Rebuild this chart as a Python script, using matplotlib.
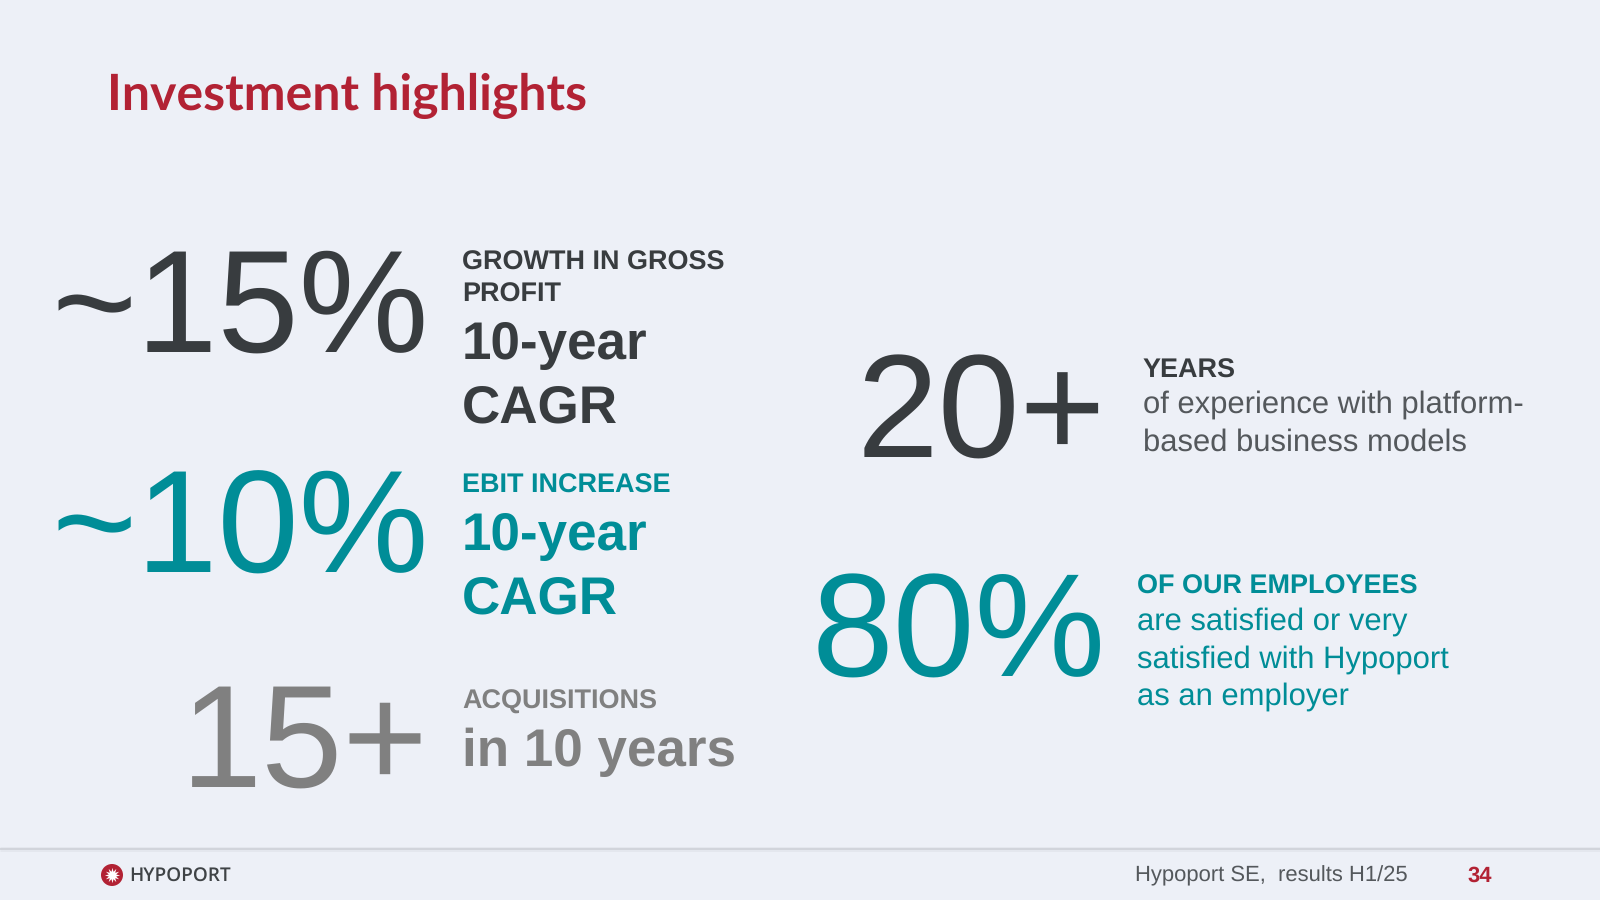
import matplotlib
matplotlib.use("Agg")
import matplotlib.pyplot as plt
from matplotlib.patches import Circle

plt.rcParams["text.hinting"] = "no_hinting"
plt.rcParams["text.hinting_factor"] = 1

# === Slide content ===
title = "Investment highlights"
left_numbers = ["~15%", "~10%", "15+"]
left_heads = ["GROWTH IN GROSS\nPROFIT", "EBIT INCREASE", "ACQUISITIONS"]
left_subs = ["10-year\nCAGR", "10-year\nCAGR", "in 10 years"]
right_numbers = ["20+", "80%"]
right_heads = ["YEARS", "OF OUR EMPLOYEES"]
right_subs = [
    "of experience with platform-\nbased business models",
    "are satisfied or very\nsatisfied with Hypoport\nas an employer",
]
footer = "Hypoport SE,  results H1/25"
page = "34"
logo_text = "HYPOPORT"

# === Colours ===
BG = "#EDF0F7"
RED = "#B22234"
DARK = "#383C3F"
TEAL = "#008D97"
GREY = "#808080"
BODY = "#54585C"
SANS = "Liberation Sans"

fig = plt.figure(figsize=(16, 9), dpi=100, facecolor=BG)
ax = fig.add_axes([0, 0, 1, 1])
ax.set_xlim(0, 1600)
ax.set_ylim(900, 0)
ax.axis("off")


def put(x, y, s, size, color, weight="normal", ha="left", family=SANS):
    ax.text(x, y, s, fontsize=size, color=color, fontweight=weight, ha=ha,
            va="baseline", family=family)


def put_lines(x, baselines, s, size, color, weight="normal"):
    for y, line in zip(baselines, s.split("\n")):
        put(x, y, line, size, color, weight)


# Title
put(107, 110, title, 35.7, RED, "bold", family="Lato")

# Left column
left_colors = [DARK, TEAL, GREY]
left_base = [352, 573, 787]
head_base = [[269.4, 301.4], [492.4], [708.4]]
sub_base = [[359.5, 422], [550, 613], [766]]
for i in range(3):
    put(429, left_base[i], left_numbers[i], 105, left_colors[i], ha="right")
    put_lines(462, head_base[i], left_heads[i], 19.1, left_colors[i], "bold")
    put_lines(462, sub_base[i], left_subs[i], 38.2, left_colors[i], "bold")

# Right column
right_colors = [DARK, TEAL]
right_base = [458, 677]
right_x = [1143, 1137]
rhead_base = [377.4, 593.6]
rsub_base = [[413, 451], [630, 668, 705]]
rsub_colors = [BODY, TEAL]
for i in range(2):
    put(1106, right_base[i], right_numbers[i], 106, right_colors[i], ha="right")
    put(right_x[i], rhead_base[i], right_heads[i], 19.1, right_colors[i], "bold")
    put_lines(right_x[i], rsub_base[i], right_subs[i], 22.45, rsub_colors[i])

# Footer rule with soft shadow
for col, lw in [("#E4E7EE", 3.5), ("#D0D3DA", 1.3)]:
    ax.plot([0, 1600], [848.5, 848.5], color=col, lw=lw, solid_capstyle="butt")

# Logo
ax.add_patch(Circle((112, 875), 11, color=RED, lw=0))
ax.plot([112], [875], marker=(12, 1, 0), ms=11, color="white", mew=0)
put(129, 881, logo_text, 13.9, "#3F4346", "semibold", family="Open Sans")

# Footer text
put(1135, 881.5, footer, 15.95, BODY)
put(1468, 881.5, page, 16, RED, "bold")

fig.savefig("out.png", dpi=100, facecolor=BG)
